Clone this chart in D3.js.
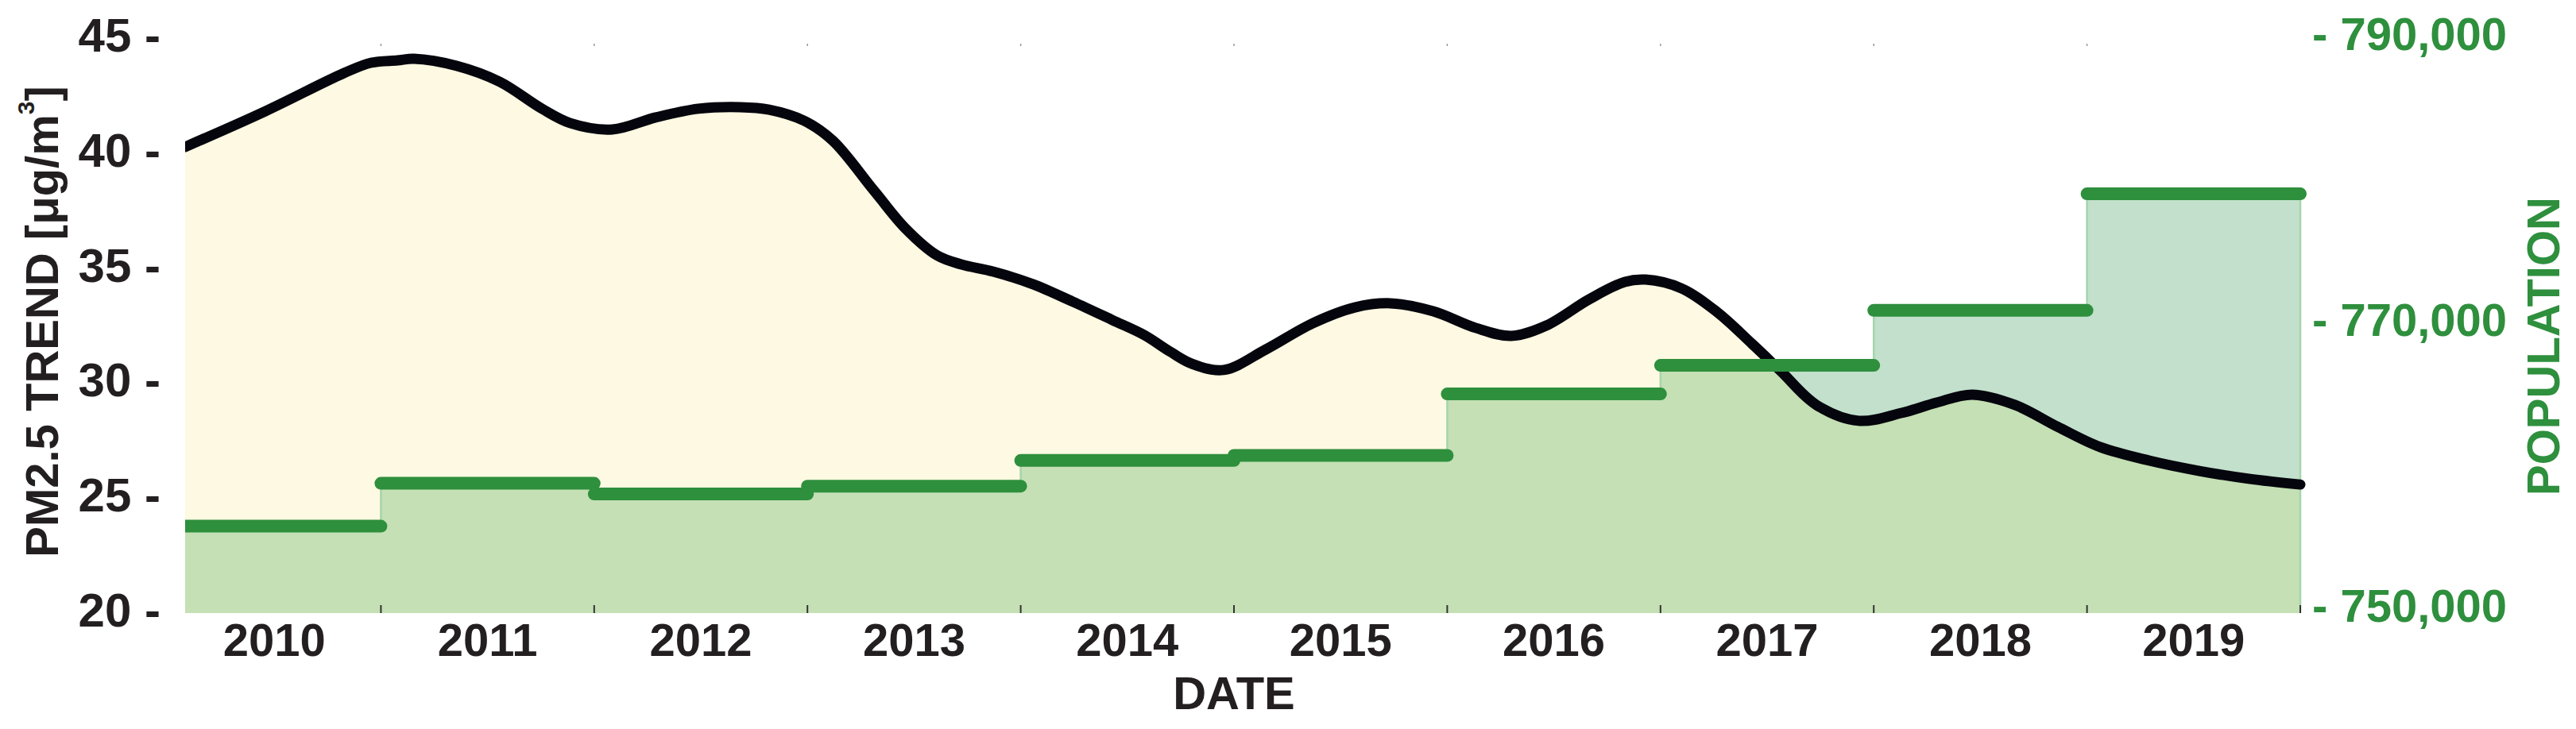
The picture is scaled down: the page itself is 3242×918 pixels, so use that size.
<!DOCTYPE html>
<html>
<head>
<meta charset="utf-8">
<script src="https://cdn.jsdelivr.net/npm/d3@7"></script>
<style>
  html, body { margin: 0; padding: 0; background: #fff; }
  text { font-family: "Liberation Sans", Arial, sans-serif; font-weight: bold; }
</style>
</head>
<body>
<div id="chart"></div>
<script>
// PM2.5 smoothed trend (decimal year, ug/m3)
const pmYear = [2010.082, 2010.458, 2010.827, 2010.954, 2011.077, 2011.155, 2011.356, 2011.557,
  2011.755, 2011.889, 2012.086, 2012.288, 2012.489, 2012.686, 2012.820, 2012.984, 2013.118,
  2013.312, 2013.461, 2013.610, 2013.722, 2013.871, 2014.057, 2014.244, 2014.430, 2014.579,
  2014.702, 2014.803, 2014.952, 2015.149, 2015.369, 2015.567, 2015.734, 2015.935, 2016.133,
  2016.300, 2016.464, 2016.665, 2016.833, 2016.930, 2017.098, 2017.265, 2017.429, 2017.563,
  2017.731, 2017.928, 2018.130, 2018.294, 2018.461, 2018.662, 2018.860, 2019.061, 2019.292,
  2019.527, 2019.758, 2020.0];
const pmValue = [40.27, 41.82, 43.48, 43.93, 44.03, 44.10, 43.79, 43.10,
  41.93, 41.30, 41.03, 41.55, 41.93, 42.00, 41.89, 41.41, 40.55,
  38.37, 36.71, 35.54, 35.16, 34.85, 34.30, 33.54, 32.74, 32.09,
  31.36, 30.84, 30.57, 31.46, 32.60, 33.29, 33.47, 33.12, 32.40,
  32.05, 32.50, 33.64, 34.40, 34.50, 34.12, 33.09, 31.71, 30.53,
  29.05, 28.36, 28.70, 29.15, 29.50, 29.05, 28.11, 27.22, 26.63,
  26.18, 25.84, 25.59];

// yearly population
const popYear = [2010, 2011, 2012, 2013, 2014, 2015, 2016, 2017, 2018, 2019];
const popValue = [755800, 758800, 758050, 758600, 760400, 760750, 765050, 767050, 770900, 779050];

const leftTicks = [20, 25, 30, 35, 40, 45];
const rightTicks = [750000, 770000, 790000];
const yearTicks = [2011, 2012, 2013, 2014, 2015, 2016, 2017, 2018, 2019, 2020];

const W = 3242, H = 918;
const PLOT_TOP = 57, PLOT_BOTTOM = 772;
const GREEN = "#2e8f3d", DARK = "#231f20";

const svg = d3.select("#chart").append("svg")
  .attr("width", W).attr("height", H);

const x = d3.scaleLinear().domain([2010, 2020]).range([211, 2895]);
const yL = d3.scaleLinear().domain([20, 45]).range([772, 48]);
const yR = d3.scaleLinear().domain([750000, 790000]).range([767, 47]);

const pm = pmYear.map((t, i) => ({ t: t, v: pmValue[i] }));
const pop = popYear.map((t, i) => ({ t: t, v: popValue[i] }));
const popExt = pop.concat([{ t: 2020, v: popValue[popValue.length - 1] }]);

const curve = d3.curveCatmullRom.alpha(0.5);
const pmLine = d3.line().x(d => x(d.t)).y(d => yL(d.v)).curve(curve);
const pmArea = d3.area().x(d => x(d.t)).y0(PLOT_BOTTOM).y1(d => yL(d.v)).curve(curve);
const popArea = d3.area().x(d => x(Math.max(d.t, pmYear[0]))).y0(PLOT_BOTTOM).y1(d => yR(d.v))
  .curve(d3.curveStepAfter);
const popEdge = d3.line().x(d => x(d.t)).y(d => yR(d.v)).curve(d3.curveStepAfter);

const defs = svg.append("defs");
defs.append("clipPath").attr("id", "plotClip")
  .append("rect")
  .attr("x", x(pmYear[0])).attr("y", 0)
  .attr("width", 2940 - x(pmYear[0])).attr("height", PLOT_BOTTOM);
defs.append("clipPath").attr("id", "pmClip")
  .append("path").attr("d", pmArea(pm));

const g = svg.append("g").attr("clip-path", "url(#plotClip)");

// fills
g.append("path").attr("d", pmArea(pm)).attr("fill", "#fef9e2");
g.append("path").attr("d", popArea(popExt)).attr("fill", "#c2e0cb");
g.append("path").attr("d", popArea(popExt)).attr("fill", "#c4e0b4")
  .attr("clip-path", "url(#pmClip)");
g.append("path")
  .attr("d", popEdge(popExt) + `L${x(2020)},${PLOT_BOTTOM}`)
  .attr("fill", "none").attr("stroke", "#a5d5ad").attr("stroke-width", 2.5);

// pm trend line
g.append("path").attr("d", pmLine(pm))
  .attr("fill", "none").attr("stroke", "#05050d").attr("stroke-width", 13)
  .attr("stroke-linecap", "round").attr("stroke-linejoin", "round");

// population steps
g.selectAll(".step").data(pop).join("line")
  .attr("class", "step")
  .attr("x1", d => x(d.t)).attr("x2", d => x(d.t + 1))
  .attr("y1", d => yR(d.v)).attr("y2", d => yR(d.v))
  .attr("stroke", GREEN).attr("stroke-width", 16).attr("stroke-linecap", "round");

// year ticks
svg.selectAll(".btick").data(yearTicks).join("line")
  .attr("x1", d => x(d)).attr("x2", d => x(d))
  .attr("y1", PLOT_BOTTOM - 10).attr("y2", PLOT_BOTTOM)
  .attr("stroke", "#333").attr("stroke-width", 2);
svg.selectAll(".ttick").data(yearTicks.slice(0, -1)).join("line")
  .attr("x1", d => x(d)).attr("x2", d => x(d))
  .attr("y1", PLOT_TOP - 2).attr("y2", PLOT_TOP + 1)
  .attr("stroke", "#999").attr("stroke-width", 1.5);

// year labels
svg.selectAll(".ylab").data(popYear).join("text")
  .attr("x", d => x(d + 0.5)).attr("y", 826)
  .attr("text-anchor", "middle").attr("font-size", 58).attr("fill", DARK)
  .text(d => d);

// left axis labels
svg.selectAll(".llab").data(leftTicks).join("text")
  .attr("x", 202).attr("y", d => yL(d) + 17)
  .attr("text-anchor", "end").attr("font-size", 60).attr("fill", DARK)
  .text(d => d + " -");

// right axis labels
const fmt = d3.format(",");
svg.selectAll(".rlab").data(rightTicks).join("text")
  .attr("x", 2910).attr("y", d => yR(d) + 16)
  .attr("text-anchor", "start").attr("font-size", 58).attr("fill", GREEN)
  .text(d => "- " + fmt(d));

// axis titles
svg.append("text")
  .attr("x", 1553).attr("y", 893)
  .attr("text-anchor", "middle").attr("font-size", 58).attr("fill", DARK)
  .text("DATE");

const lt = svg.append("text")
  .attr("transform", "translate(73,405) rotate(-90)")
  .attr("text-anchor", "middle").attr("font-size", 58).attr("fill", DARK);
lt.append("tspan").text("PM2.5 TREND [\u03BCg/m");
lt.append("tspan").attr("dy", -30).attr("font-size", 30).text("3");
lt.append("tspan").attr("dy", 30).text("]");

svg.append("text")
  .attr("transform", "translate(3221,436) rotate(-90)")
  .attr("text-anchor", "middle").attr("font-size", 58).attr("fill", GREEN)
  .text("POPULATION");
</script>
</body>
</html>
